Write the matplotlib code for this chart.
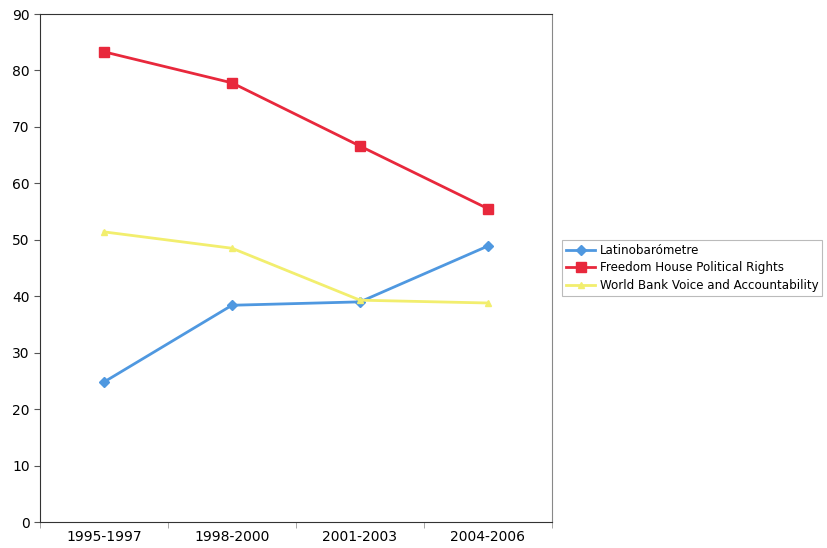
import matplotlib
matplotlib.use("Agg")
import matplotlib.pyplot as plt
import numpy as np

periods = ["1995-1997", "1998-2000", "2001-2003", "2004-2006"]
latinobarometre = [24.8, 38.4, 39.0, 48.9]
freedom_house = [83.3, 77.8, 66.6, 55.5]
world_bank = [51.4, 48.5, 39.3, 38.8]

fig = plt.figure(figsize=(8.28, 5.48), dpi=100)
ax = fig.add_axes([40/828, 26/548, 512/828, 508/548])

x = np.arange(len(periods))
ax.plot(x, latinobarometre, color="#4f98e0", lw=2.0, marker="D", ms=5,
        label="Latinobarómetre")
ax.plot(x, freedom_house, color="#e8283c", lw=2.0, marker="s", ms=7,
        label="Freedom House Political Rights")
ax.plot(x, world_bank, color="#f2ee6e", lw=2.0, marker="^", ms=5,
        label="World Bank Voice and Accountability")

ax.set_xlim(-0.5, 3.5)
ax.set_ylim(0, 90)
ax.set_yticks(range(0, 91, 10))
ax.set_xticks(x)
ax.set_xticklabels(periods)
ax.set_xticks(np.arange(-0.5, 3.6, 1), minor=True)
ax.tick_params(axis="x", which="major", length=0, pad=6, labelsize=10)
ax.tick_params(axis="x", which="minor", length=4, color="#999999")
ax.tick_params(axis="y", length=4, labelsize=10, color="#555555")

for side in ["left", "bottom", "top"]:
    ax.spines[side].set_color("#333333")
ax.spines["right"].set_color("#888888")

leg = ax.legend(loc="center left", bbox_to_anchor=(522/512, 0.5),
                frameon=True, fancybox=False, fontsize=8.6, handlelength=2.4,
                borderaxespad=0, borderpad=0.35, labelspacing=0.35,
                handletextpad=0.4)
leg.get_frame().set_edgecolor("#aaaaaa")
leg.get_frame().set_linewidth(0.8)

fig.savefig("out.png", dpi=100)
